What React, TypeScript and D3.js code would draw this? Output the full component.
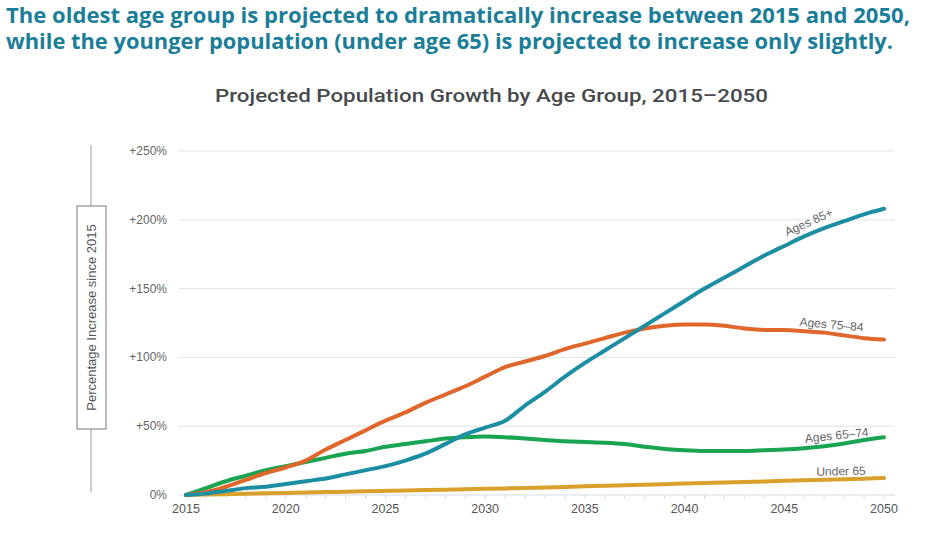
import { useEffect, useRef } from "react"
import * as d3 from "d3"

const years = d3.range(2015, 2051)

const ages85 = [0, 1, 3, 5, 6, 8, 10, 12, 15, 18, 21, 25, 30, 37, 44, 49, 54, 65, 75, 86, 96, 105, 114, 123, 132, 141, 150, 158, 166, 174, 181, 188, 194, 199, 204, 208]
const ages75 = [0, 2, 6, 11, 16, 20, 25, 33, 40, 47, 54, 60, 67, 73, 79, 86, 93, 97, 101, 106, 110, 114, 118, 121, 123, 124, 124, 123, 121, 120, 120, 119, 118, 116, 114, 113]
const ages65 = [0, 5, 10, 14, 18, 21, 24, 27, 30, 32, 35, 37, 39, 41, 42, 42.5, 42, 41, 40, 39, 38.5, 38, 37, 35, 33.5, 32.5, 32, 32, 32, 32.5, 33, 34, 35.5, 37.5, 40, 42]
const under65 = [0, 0.3, 0.6, 0.9, 1.2, 1.5, 1.8, 2.1, 2.4, 2.7, 3, 3.3, 3.6, 3.9, 4.2, 4.5, 4.8, 5.1, 5.5, 5.9, 6.3, 6.7, 7.1, 7.5, 7.9, 8.3, 8.7, 9.1, 9.5, 9.9, 10.3, 10.7, 11.1, 11.5, 11.9, 12.3]

const yTicks = [0, 50, 100, 150, 200, 250]
const xTicks = [2015, 2020, 2025, 2030, 2035, 2040, 2045, 2050]

const series = [
  { name: "Under 65", values: under65, color: "#d9a12b", labelYear: 2047.85, labelDy: -4, rotate: -1 },
  { name: "Ages 65\u201374", values: ages65, color: "#18a450", labelYear: 2047.65, labelDy: -5, rotate: -6 },
  { name: "Ages 75\u201384", values: ages75, color: "#e0672b", labelYear: 2047.35, labelDy: -5, rotate: 5 },
  { name: "Ages 85+", values: ages85, color: "#1c8ea4", labelYear: 2046.3, labelDy: -8, rotate: -24 },
]

export default function App() {
  const svgRef = useRef<SVGSVGElement>(null)

  useEffect(() => {
    document.body.style.margin = "0"
    if (!svgRef.current) return
    const svg = d3.select(svgRef.current)
    svg.selectAll("*").remove()

    const x = d3.scaleLinear().domain([2015, 2050]).range([186, 884])
    const y = d3.scaleLinear().domain([0, 250]).range([495, 151])

    // headline
    svg.append("text")
      .attr("x", 6).attr("y", 23)
      .attr("font-family", "'Open Sans', sans-serif").attr("font-weight", 700)
      .attr("font-size", 20.5).attr("fill", "#1b7e98")
      .attr("textLength", 904).attr("lengthAdjust", "spacingAndGlyphs")
      .text("The oldest age group is projected to dramatically increase between 2015 and 2050,")
    svg.append("text")
      .attr("x", 6).attr("y", 49)
      .attr("font-family", "'Open Sans', sans-serif").attr("font-weight", 700)
      .attr("font-size", 20.5).attr("fill", "#1b7e98")
      .attr("textLength", 887).attr("lengthAdjust", "spacingAndGlyphs")
      .text("while the younger population (under age 65) is projected to increase only slightly.")

    // chart title
    svg.append("text")
      .attr("x", 215).attr("y", 102)
      .attr("font-family", "Roboto, sans-serif").attr("font-weight", 500)
      .attr("font-size", 17.5).attr("fill", "#474a4d")
      .attr("textLength", 553).attr("lengthAdjust", "spacingAndGlyphs")
      .text("Projected Population Growth by Age Group, 2015\u20132050")

    // gridlines
    svg.append("g").selectAll("line")
      .data(yTicks.filter((d) => d > 0))
      .join("line")
      .attr("x1", 178).attr("x2", 895)
      .attr("y1", (d) => y(d)).attr("y2", (d) => y(d))
      .attr("stroke", "#e3e3e3").attr("stroke-width", 1)

    // y tick labels
    svg.append("g").selectAll("text")
      .data(yTicks)
      .join("text")
      .attr("x", 167).attr("y", (d) => y(d) + 4)
      .attr("text-anchor", "end")
      .attr("font-family", "'Liberation Sans', Arial, sans-serif")
      .attr("font-size", 12).attr("fill", "#666")
      .text((d) => (d === 0 ? "0%" : `+${d}%`))

    // x axis
    const xAxis = svg.append("g")
    xAxis.append("line")
      .attr("x1", 178).attr("x2", 895).attr("y1", 495).attr("y2", 495)
      .attr("stroke", "#d5dde4").attr("stroke-width", 1)
    xAxis.selectAll("line.tick")
      .data(years)
      .join("line")
      .attr("class", "tick")
      .attr("x1", (d) => x(d)).attr("x2", (d) => x(d))
      .attr("y1", 495).attr("y2", 499)
      .attr("stroke", "#d5dde4")
    xAxis.selectAll("text")
      .data(xTicks)
      .join("text")
      .attr("x", (d) => x(d)).attr("y", 513)
      .attr("text-anchor", "middle")
      .attr("font-family", "'Liberation Sans', Arial, sans-serif")
      .attr("font-size", 12.5).attr("fill", "#555")
      .text((d) => d)

    // y axis title box
    svg.append("line")
      .attr("x1", 91).attr("x2", 91).attr("y1", 145).attr("y2", 492)
      .attr("stroke", "#999")
    svg.append("rect")
      .attr("x", 77).attr("y", 206).attr("width", 29).attr("height", 223)
      .attr("fill", "#fff").attr("stroke", "#777")
    svg.append("text")
      .attr("transform", `translate(96, 317.5) rotate(-90)`)
      .attr("text-anchor", "middle")
      .attr("font-family", "'Liberation Sans', Arial, sans-serif")
      .attr("font-size", 13).attr("fill", "#555")
      .text("Percentage Increase since 2015")

    // lines
    const line = d3.line<number>()
      .x((_, i) => x(years[i]))
      .y((d) => y(d))
      .curve(d3.curveMonotoneX)

    series.forEach((s) => {
      svg.append("path")
        .datum(s.values)
        .attr("d", line)
        .attr("fill", "none")
        .attr("stroke", s.color)
        .attr("stroke-width", 4)
        .attr("stroke-linejoin", "round")
        .attr("stroke-linecap", "round")
    })

    // series labels
    series.forEach((s) => {
      const v = d3.scaleLinear().domain(years).range(s.values)(s.labelYear)
      const lx = x(s.labelYear)
      const ly = y(v) + s.labelDy
      svg.append("text")
        .attr("transform", `translate(${lx}, ${ly}) rotate(${s.rotate})`)
        .attr("text-anchor", "middle")
        .attr("font-family", "'Liberation Sans', Arial, sans-serif")
        .attr("font-size", 12).attr("fill", "#666")
        .text(s.name)
    })
  }, [])

  return <svg ref={svgRef} width={932} height={533} style={{ display: "block", background: "#fff" }} />
}
